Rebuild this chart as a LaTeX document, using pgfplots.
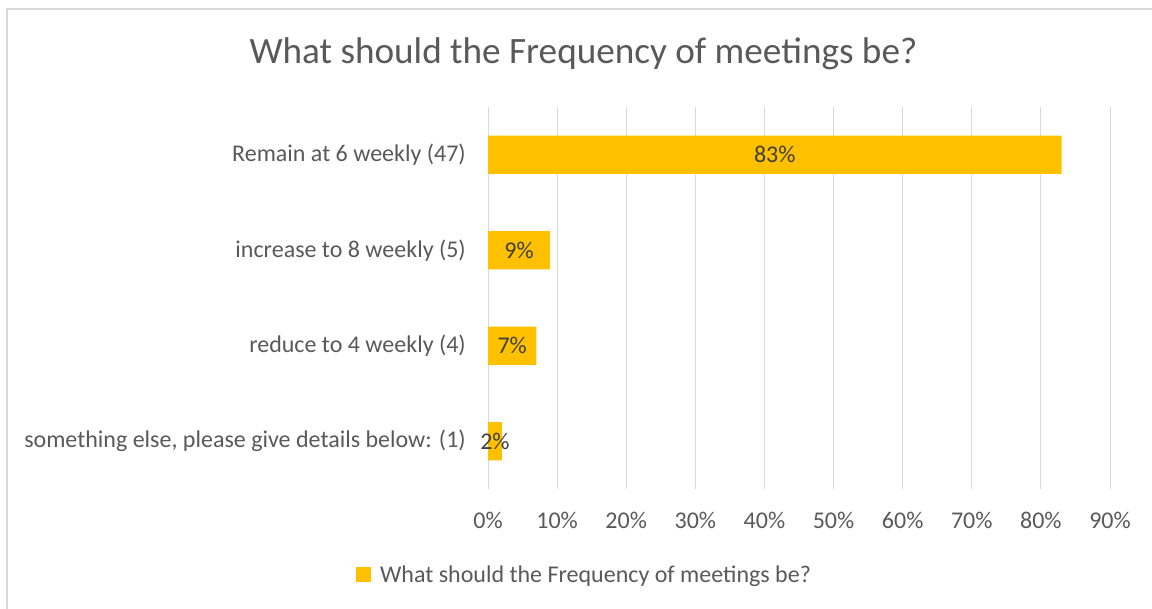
\documentclass[border=0pt]{standalone}
\usepackage{fontspec}
\setmainfont{Carlito}
\usepackage{pgfplots}
\pgfplotsset{compat=1.18}
\definecolor{barc}{HTML}{FFC000}
\definecolor{txt}{HTML}{595959}
\definecolor{lbl}{HTML}{404040}
\definecolor{gridc}{HTML}{D9D9D9}
\begin{document}
\begin{tikzpicture}
\path[use as bounding box] (0pt,0pt) rectangle (864pt,456pt);
\draw[gridc, line width=1.5pt] (5.25pt,-10pt) -- (5.25pt,449.25pt) -- (880pt,449.25pt);
\node[txt, anchor=base, font=\fontsize{27.9}{32}\selectfont] at (437.6pt,408pt) {What should the Frequency of meetings be?};
\begin{axis}[
  at={(366pt,89.25pt)}, anchor=south west,
  scale only axis, width=466.5pt, height=286.5pt,
  /pgf/number format/assume math mode=true,
  xbar stacked, bar width=0.4,
  xmin=0, xmax=90, ymin=-0.5, ymax=3.5,
  xtick={0,10,...,90},
  xticklabel={\pgfmathprintnumber{\tick}\%},
  ytick={0,1,2,3},
  yticklabels={{something else, please give details below: (1)},{reduce to 4 weekly (4)},{increase to 8 weekly (5)},{Remain at 6 weekly (47)}},
  xmajorgrids, grid style={gridc, line width=0.75pt},
  axis line style={draw=none}, major tick length=0pt, tick style={draw=none},
  tick label style={font=\fontsize{18}{21}\selectfont, text=txt},
  xticklabel style={inner sep=0pt, anchor=north, yshift=-17pt},
  yticklabel style={inner sep=0pt, anchor=east, xshift=-16.5pt},
  nodes near coords={\pgfmathprintnumber{\pgfplotspointmeta}\%},
  every node near coord/.append style={font=\fontsize{18}{21}\selectfont, text=lbl},
  legend style={at={(axis description cs:0.156,-0.225)}, anchor=center, draw=none, fill=none,
     font=\fontsize{18}{21}\selectfont, text=txt, inner sep=0pt},
  legend image code/.code={\fill[barc] (0pt,-5.6pt) rectangle (11.25pt,5.6pt); \path (15.75pt,0pt);},
]
\addplot[fill=barc, draw=none] coordinates {(2,0) (7,1) (9,2) (83,3)};
\addlegendentry{What should the Frequency of meetings be?}
\end{axis}
\end{tikzpicture}
\end{document}
